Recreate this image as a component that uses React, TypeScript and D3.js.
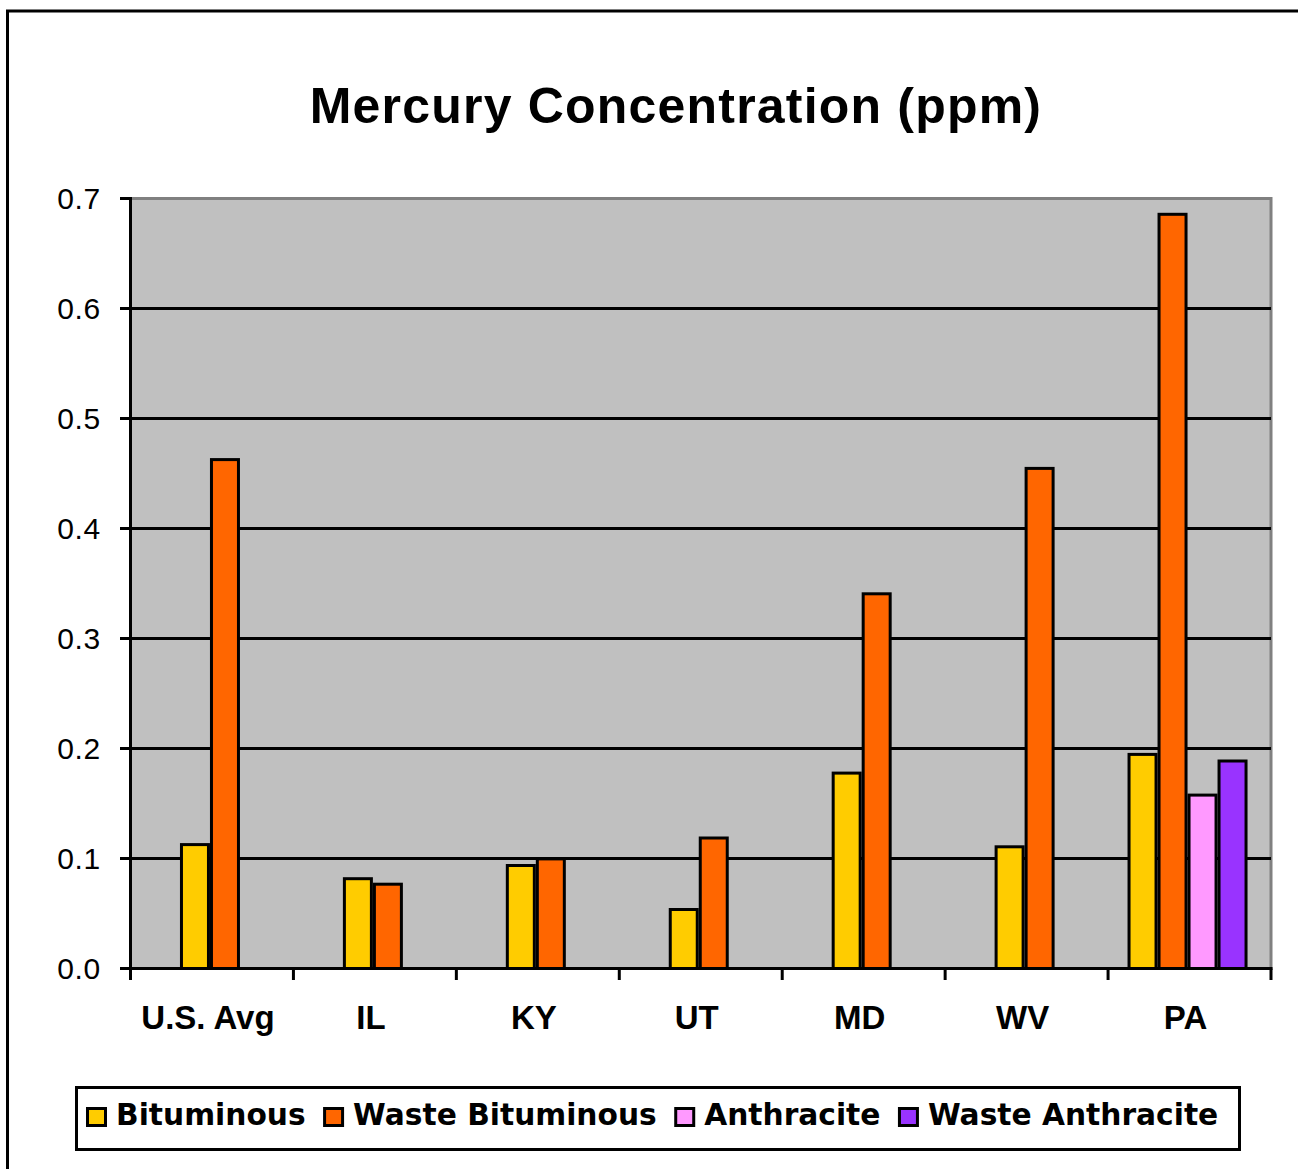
import React, { useEffect, useRef } from 'react';
import * as d3 from 'd3';

const categories = ['U.S. Avg', 'IL', 'KY', 'UT', 'MD', 'WV', 'PA'];
const seriesNames = ['Bituminous', 'Waste Bituminous', 'Anthracite', 'Waste Anthracite'];
const seriesColors = ['#FFCC00', '#FF6600', '#FF99FF', '#9933FF'];
const bituminous = [0.114, 0.083, 0.095, 0.055, 0.179, 0.112, 0.196];
const wasteBituminous = [0.464, 0.078, 0.101, 0.12, 0.342, 0.456, 0.687];
const anthracite = [null, null, null, null, null, null, 0.159];
const wasteAnthracite = [null, null, null, null, null, null, 0.19];
const yTicks = [0, 0.1, 0.2, 0.3, 0.4, 0.5, 0.6, 0.7];

const FONT = '"Liberation Sans", Arial, sans-serif';
const LEGEND_FONT = '"DejaVu Sans", sans-serif';

function App() {
  const ref = useRef<SVGSVGElement>(null);

  useEffect(() => {
    document.body.style.margin = '0';
    const svg = d3.select(ref.current);
    svg.selectAll('*').remove();

    const left = 130.5, right = 1271, top = 198.5, bottom = 968.5;
    const x = d3.scaleBand().domain(categories).range([left, right]).padding(0);
    const y = d3.scaleLinear().domain([0, 0.7]).range([bottom, top]);
    const allSeries = [bituminous, wasteBituminous, anthracite, wasteAnthracite];

    // outer frame
    svg.append('rect')
      .attr('x', 7.5).attr('y', 11).attr('width', 1400).attr('height', 1300)
      .attr('fill', 'white').attr('stroke', 'black').attr('stroke-width', 3);

    // title
    svg.append('text')
      .attr('x', 676).attr('y', 123)
      .attr('text-anchor', 'middle')
      .style('font-family', FONT).style('font-weight', 'bold').style('font-size', '50px')
      .style('letter-spacing', '1.2px')
      .text('Mercury Concentration (ppm)');

    // plot area
    svg.append('rect')
      .attr('x', left).attr('y', top).attr('width', right - left).attr('height', bottom - top)
      .attr('fill', '#C0C0C0');
    svg.append('path')
      .attr('d', `M${left},${top}H${right}V${bottom}`)
      .attr('fill', 'none').attr('stroke', '#808080').attr('stroke-width', 3);

    // gridlines
    svg.append('g').selectAll('line')
      .data(yTicks.filter(d => d > 0 && d < 0.7))
      .join('line')
      .attr('x1', left).attr('x2', right)
      .attr('y1', d => y(d)).attr('y2', d => y(d))
      .attr('stroke', 'black').attr('stroke-width', 3);

    // bars
    const step = 30;
    const bars = [];
    categories.forEach((c, i) => {
      const present = allSeries.map((s, k) => ({ k, v: s[i] })).filter(d => d.v != null);
      const center = x(c) + x.bandwidth() / 2 - 2;
      const start = center - present.length * step / 2;
      present.forEach((d, j) => bars.push({ x: start + j * step, v: d.v, k: d.k }));
    });
    svg.append('g').selectAll('rect')
      .data(bars)
      .join('rect')
      .attr('x', d => d.x + 1.5)
      .attr('width', step - 3)
      .attr('y', d => y(d.v) + 1.5)
      .attr('height', d => bottom - y(d.v) - 1.5)
      .attr('fill', d => seriesColors[d.k])
      .attr('stroke', 'black').attr('stroke-width', 3);

    // axes
    const yAxis = svg.append('g');
    yAxis.append('line')
      .attr('x1', left).attr('x2', left).attr('y1', top - 1.5).attr('y2', bottom + 1.5)
      .attr('stroke', 'black').attr('stroke-width', 3);
    yAxis.selectAll('line.tick')
      .data(yTicks).join('line').attr('class', 'tick')
      .attr('x1', 120).attr('x2', left).attr('y1', d => y(d)).attr('y2', d => y(d))
      .attr('stroke', 'black').attr('stroke-width', 3);
    yAxis.selectAll('text')
      .data(yTicks).join('text')
      .attr('x', 101).attr('y', d => y(d) + 10.5)
      .attr('text-anchor', 'end')
      .style('font-family', FONT).style('font-size', '30px')
      .style('letter-spacing', '0.7px')
      .text(d => d3.format('.1f')(d));

    const xAxis = svg.append('g');
    xAxis.append('line')
      .attr('x1', left - 1.5).attr('x2', right + 1.5).attr('y1', bottom).attr('y2', bottom)
      .attr('stroke', 'black').attr('stroke-width', 3);
    const edges = categories.map(c => x(c)).concat([right]);
    xAxis.selectAll('line.tick')
      .data(edges).join('line').attr('class', 'tick')
      .attr('x1', d => d).attr('x2', d => d).attr('y1', bottom).attr('y2', 980)
      .attr('stroke', 'black').attr('stroke-width', 3);
    xAxis.selectAll('text')
      .data(categories).join('text')
      .attr('x', d => x(d) + x.bandwidth() / 2 - 4).attr('y', 1029)
      .attr('text-anchor', 'middle')
      .style('font-family', FONT).style('font-weight', 'bold').style('font-size', '33px')
      .text(d => d);

    // legend
    const legend = svg.append('g');
    legend.append('rect')
      .attr('x', 76.5).attr('y', 1087.5).attr('width', 1163).attr('height', 62)
      .attr('fill', 'white').attr('stroke', 'black').attr('stroke-width', 3);
    let cx = 87.5;
    seriesNames.forEach((name, k) => {
      legend.append('rect')
        .attr('x', cx).attr('y', 1108.5).attr('width', 18).attr('height', 17)
        .attr('fill', seriesColors[k]).attr('stroke', 'black').attr('stroke-width', 3);
      const t = legend.append('text')
        .attr('x', cx + 28.5).attr('y', 1125)
        .style('font-family', LEGEND_FONT).style('font-weight', 'bold').style('font-size', '29.7px')
        .text(name);
      const w = (t.node() as SVGTextElement).getComputedTextLength();
      cx = cx + 28.5 + w + 19;
    });
  }, []);

  return <svg ref={ref} width={1298} height={1169} style={{ display: 'block' }} />;
}

export default App;
